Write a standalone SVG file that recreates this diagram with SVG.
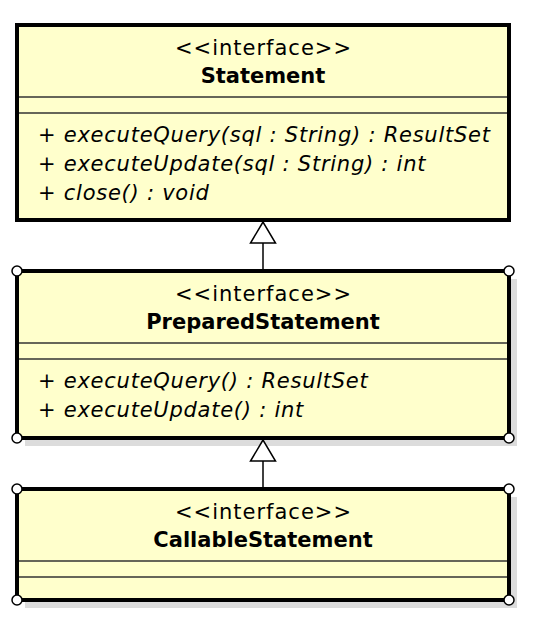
<svg xmlns="http://www.w3.org/2000/svg" width="536" height="624" viewBox="0 0 536 624">
<style>
.box{fill:#ffffcc;stroke:#000;stroke-width:4}
.shadow{fill:#dcdcdc}
.sep{stroke:#333;stroke-width:1.5}
.st{font-family:"DejaVu Sans",sans-serif;font-size:21px;letter-spacing:1px;text-anchor:middle;fill:#000}
.nm{font-family:"DejaVu Sans",sans-serif;font-size:21px;font-weight:bold;text-anchor:middle;fill:#000}
.op{font-family:"DejaVu Sans",sans-serif;font-size:21px;letter-spacing:0.75px;font-style:italic;fill:#000}
.h{fill:#fff;stroke:#000;stroke-width:1.5}
.ln{stroke:#000;stroke-width:1.5;fill:none}
.tri{fill:#fff;stroke:#000;stroke-width:1.5}
</style>
<rect width="536" height="624" fill="#fff"/>
<g id="Statement">
<rect class="box" x="17" y="25" width="492" height="195"/>
<line class="sep" x1="19" y1="97" x2="507" y2="97"/>
<line class="sep" x1="19" y1="113" x2="507" y2="113"/>
<text class="st" x="263.5" y="55">&lt;&lt;interface&gt;&gt;</text>
<text class="nm" x="263" y="83">Statement</text>
<text class="op" x="38" y="142">+ executeQuery(sql : String) : ResultSet</text>
<text class="op" x="38" y="171">+ executeUpdate(sql : String) : int</text>
<text class="op" x="38" y="200">+ close() : void</text>
</g>
<g id="PreparedStatement">
<rect class="shadow" x="25" y="279" width="492" height="167"/>
<rect class="box" x="17" y="271" width="492" height="167"/>
<line class="sep" x1="19" y1="343" x2="507" y2="343"/>
<line class="sep" x1="19" y1="359" x2="507" y2="359"/>
<text class="st" x="263.5" y="301">&lt;&lt;interface&gt;&gt;</text>
<text class="nm" x="263" y="329">PreparedStatement</text>
<text class="op" x="38" y="388">+ executeQuery() : ResultSet</text>
<text class="op" x="38" y="417">+ executeUpdate() : int</text>
<circle class="h" cx="17" cy="271" r="5"/>
<circle class="h" cx="509" cy="271" r="5"/>
<circle class="h" cx="17" cy="438" r="5"/>
<circle class="h" cx="509" cy="438" r="5"/>
</g>
<g id="CallableStatement">
<rect class="shadow" x="25" y="497" width="492" height="111"/>
<rect class="box" x="17" y="489" width="492" height="111"/>
<line class="sep" x1="19" y1="561" x2="507" y2="561"/>
<line class="sep" x1="19" y1="577" x2="507" y2="577"/>
<text class="st" x="263.5" y="519">&lt;&lt;interface&gt;&gt;</text>
<text class="nm" x="263" y="547">CallableStatement</text>
<circle class="h" cx="17" cy="489" r="5"/>
<circle class="h" cx="509" cy="489" r="5"/>
<circle class="h" cx="17" cy="600" r="5"/>
<circle class="h" cx="509" cy="600" r="5"/>
</g>
<g id="connectors">
<line class="ln" x1="263" y1="243" x2="263" y2="269"/>
<polygon class="tri" points="263,222 250.5,243 275.5,243"/>
<line class="ln" x1="263" y1="461" x2="263" y2="487"/>
<polygon class="tri" points="263,440 250.5,461 275.5,461"/>
</g>
</svg>
